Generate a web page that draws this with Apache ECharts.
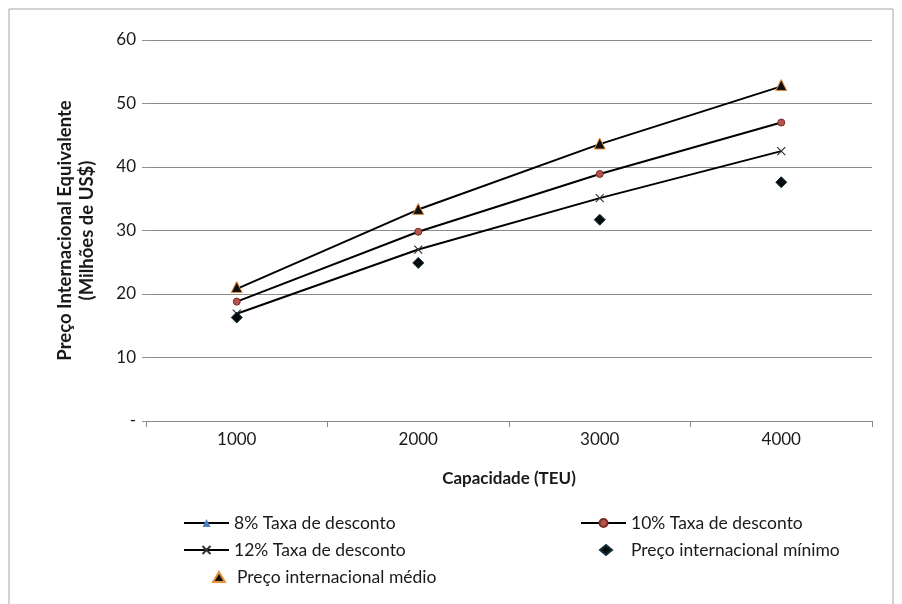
<!DOCTYPE html>
<html>
<head>
<meta charset="utf-8">
<script src="https://cdn.jsdelivr.net/npm/echarts@6/dist/echarts.min.js"></script>
<style>
  html, body { margin: 0; padding: 0; background: #fff; }
  #chart { width: 902px; height: 604px; }
</style>
</head>
<body>
<div id="chart"></div>
<script>
// categorias (capacidade TEU)
var categorias = ['1000', '2000', '3000', '4000'];
// series
var taxa8 = [20.8, 33.3, 43.6, 52.7];
var taxa10 = [18.8, 29.8, 38.9, 47.0];
var taxa12 = [16.9, 27.0, 35.1, 42.5];
var precoMinimo = [16.3, 24.9, 31.7, 37.6];
var precoMedio = [21.1, 33.4, 43.7, 52.9];
var yTicks = [0, 10, 20, 30, 40, 50, 60];

var nomes = ['8% Taxa de desconto', '10% Taxa de desconto', '12% Taxa de desconto',
  'Preço internacional mínimo', 'Preço internacional médio'];

var fonte = 'Lato, "Open Sans", sans-serif';
var cruz = 'path://M0,0L10,10M10,0L0,10';

var chart = echarts.init(document.getElementById('chart'));

// uma legenda por item, para posicionar como no original
function legenda(nome, x, y, largura, recuo) {
  return {
    data: [nome],
    left: x, top: y,
    itemWidth: largura, itemHeight: 10, itemGap: 0,
    padding: 0,
    textStyle: { fontFamily: fonte, fontSize: 17.5, color: '#1a1a1a', padding: [0, 0, 0, recuo] },
    selectedMode: false
  };
}

var option = {
  backgroundColor: '#fff',
  animation: false,
  graphic: [{
    type: 'rect',
    shape: { x: 9, y: 9, width: 884, height: 620 },
    style: { fill: 'none', stroke: '#a6a6a6', lineWidth: 1 },
    silent: true
  }],
  grid: { left: 146, right: 30, top: 40, bottom: 183 },
  legend: [
    legenda(nomes[0], 183, 514, 45, 0),
    legenda(nomes[1], 580, 514, 45, 0),
    legenda(nomes[2], 183, 541, 45, 0),
    legenda(nomes[3], 599, 541, 12, 14),
    legenda(nomes[4], 212, 568, 12, 7)
  ],
  xAxis: {
    type: 'category',
    data: categorias,
    boundaryGap: true,
    name: 'Capacidade (TEU)',
    nameLocation: 'middle',
    nameGap: 49,
    nameTextStyle: { fontFamily: fonte, fontSize: 17, fontWeight: 'bold', color: '#1a1a1a' },
    axisLine: { lineStyle: { color: '#888', width: 1 } },
    axisTick: { show: true, alignWithLabel: false, length: 6, lineStyle: { color: '#888' } },
    axisLabel: { fontFamily: fonte, fontSize: 17, color: '#1a1a1a', margin: 10 }
  },
  yAxis: {
    type: 'value',
    min: yTicks[0],
    max: yTicks[yTicks.length - 1],
    interval: 10,
    name: 'Preço Internacional Equivalente\n(Milhões de US$)',
    nameLocation: 'middle',
    nameRotate: 90,
    nameGap: 48,
    nameTextStyle: { fontFamily: fonte, fontSize: 18.5, fontWeight: 'bold', color: '#1a1a1a', lineHeight: 22 },
    axisLine: { show: false },
    axisTick: { show: true, length: 4, lineStyle: { color: '#999' } },
    splitLine: { lineStyle: { color: '#8c8c8c', width: 1 } },
    axisLabel: {
      fontFamily: fonte, fontSize: 17, color: '#1a1a1a', margin: 10,
      formatter: function (v) { return v === 0 ? '-' : String(v); }
    }
  },
  series: [
    {
      name: nomes[0], type: 'line', data: taxa8,
      symbol: 'triangle', symbolSize: 6,
      lineStyle: { color: '#000', width: 2 },
      itemStyle: { color: '#4f81bd', borderColor: '#4f81bd' },
      z: 2
    },
    {
      name: nomes[1], type: 'line', data: taxa10,
      symbol: 'circle', symbolSize: 7,
      lineStyle: { color: '#000', width: 2 },
      itemStyle: { color: '#b5544f', borderColor: '#7a2a26', borderWidth: 1 },
      z: 2
    },
    {
      name: nomes[2], type: 'line', data: taxa12,
      symbol: cruz, symbolSize: 8,
      lineStyle: { color: '#000', width: 2 },
      itemStyle: { color: 'none', borderColor: '#333', borderWidth: 1.2 },
      z: 2
    },
    {
      name: nomes[3], type: 'scatter', data: precoMinimo,
      symbol: 'diamond', symbolSize: 11,
      itemStyle: { color: '#050a0d', borderColor: '#12303a', borderWidth: 1, opacity: 1 },
      z: 3
    },
    {
      name: nomes[4], type: 'scatter', data: precoMedio,
      symbol: 'triangle', symbolSize: 11,
      itemStyle: { color: '#111', borderColor: '#e8923f', borderWidth: 1, opacity: 1 },
      z: 3
    }
  ]
};

chart.setOption(option);
</script>
</body>
</html>
